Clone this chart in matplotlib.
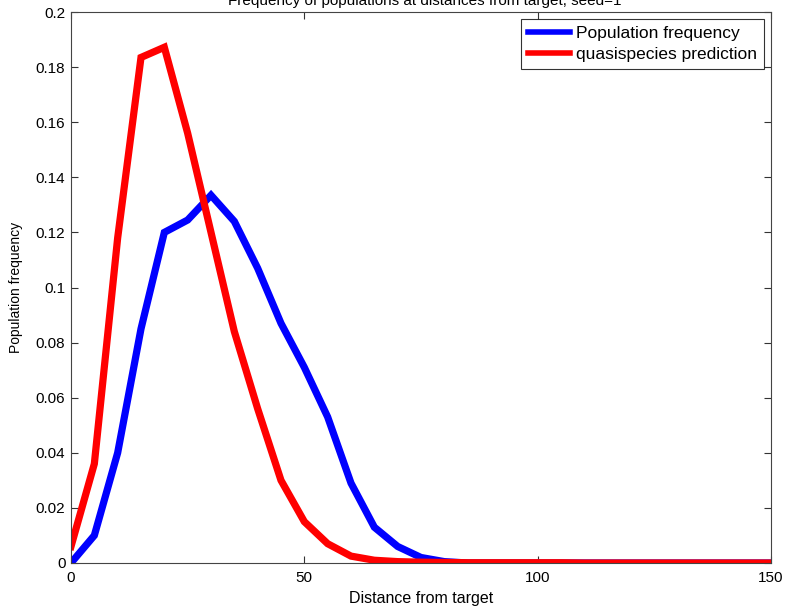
import matplotlib
matplotlib.use("Agg")
import matplotlib.pyplot as plt
import numpy as np

plt.rcParams['font.family'] = ['Liberation Sans', 'DejaVu Sans']

distance = np.arange(0, 151, 5)

population_freq = [0.0, 0.010, 0.040, 0.085, 0.120, 0.1245, 0.1335, 0.124, 0.107,
                   0.087, 0.071, 0.053, 0.029, 0.013, 0.006, 0.002, 0.0005,
                   0, 0, 0, 0, 0, 0, 0, 0, 0, 0, 0, 0, 0, 0]
quasispecies_pred = [0.006, 0.036, 0.118, 0.1835, 0.1872, 0.156, 0.120, 0.084, 0.056,
                     0.030, 0.015, 0.007, 0.0025, 0.001, 0.0005, 0.0003, 0.0002,
                     0.0001, 0.0001, 0.0001, 0.0001, 0.0001, 0, 0, 0, 0, 0, 0, 0, 0, 0]

fig = plt.figure(figsize=(7.86, 6.09), dpi=100)
ax = fig.add_axes([71/786, 1 - 563/609, 700/786, 551/609])

ax.plot(distance, population_freq, color='#0000ff', lw=5.2, label='Population frequency',
        solid_joinstyle='miter')
ax.plot(distance, quasispecies_pred, color='#ff0000', lw=5.2, label='quasispecies prediction',
        solid_joinstyle='miter')

ax.set_xlim(0, 150)
ax.set_ylim(0, 0.2)
ax.set_xticks([0, 50, 100, 150])
ax.set_xticklabels(['0', '50', '100', '150'])
yt = np.arange(0, 0.201, 0.02)
ax.set_yticks(yt)
ax.set_yticklabels(['0', '0.02', '0.04', '0.06', '0.08', '0.1', '0.12', '0.14',
                    '0.16', '0.18', '0.2'])
ax.tick_params(direction='in', top=True, right=True, length=5, labelsize=11,
               color='#333333')
ax.tick_params(axis='x', pad=6)
ax.tick_params(axis='y', pad=4)
for s in ax.spines.values():
    s.set_color('#444444')
    s.set_linewidth(0.8)

ax.set_xlabel('Distance from target', fontsize=11.5, labelpad=4)
ax.set_ylabel('Population frequency', fontsize=10, labelpad=9)

fig.text(0.54, 0.998, 'Frequency of populations at distances from target, seed=1',
         ha='center', va='center', fontsize=11)

leg = ax.legend(loc='upper right', fontsize=12.5, frameon=True, fancybox=False,
                handlelength=2.4, borderaxespad=0.4, handletextpad=0.35,
                borderpad=0.42, labelspacing=0.3)
leg.get_frame().set_edgecolor('black')
leg.get_frame().set_linewidth(0.8)
for h in leg.legend_handles:
    h.set_linewidth(4)

fig.savefig('out.png', dpi=100)
